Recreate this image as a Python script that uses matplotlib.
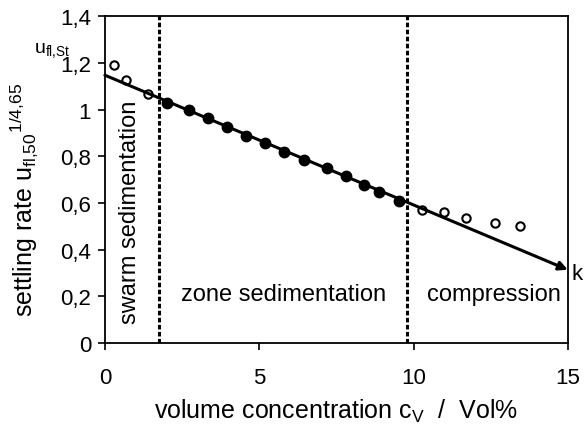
import numpy as np
import matplotlib.pyplot as plt

plt.rcParams['font.family'] = ['Liberation Sans', 'DejaVu Sans']
plt.rcParams['mathtext.fontset'] = 'custom'
plt.rcParams['mathtext.rm'] = 'Liberation Sans'
plt.rcParams['mathtext.it'] = 'Liberation Sans'
plt.rcParams['mathtext.default'] = 'regular'

# open circles: swarm and compression regions
open_x = [0.29, 0.68, 1.39, 10.26, 10.98, 11.69, 12.63, 13.45]
open_y = [1.19, 1.126, 1.066, 0.571, 0.562, 0.536, 0.514, 0.502]
# filled circles: zone sedimentation
fill_x = [2.0, 2.73, 3.35, 3.97, 4.56, 5.2, 5.81, 6.46, 7.21, 7.8, 8.39, 8.89, 9.53]
fill_y = [1.03, 0.997, 0.962, 0.926, 0.888, 0.856, 0.82, 0.783, 0.749, 0.716, 0.678, 0.645, 0.609]
# fitted line
fit_x = [0, 15]
fit_y = [1.147, 0.314]
bounds = [1.75, 9.8]
yticks = [0, 0.2, 0.4, 0.6, 0.8, 1.0, 1.2, 1.4]
ytick_labels = ['0', '0,2', '0,4', '0,6', '0,8', '1', '1,2', '1,4']
xticks = [0, 5, 10, 15]

fig = plt.figure(figsize=(5.86, 4.27), dpi=100)
ax = fig.add_axes([0.179, 0.194, 0.79, 0.766])

ax.annotate('', xy=(fit_x[1], fit_y[1]), xytext=(fit_x[0], fit_y[0]),
            arrowprops=dict(arrowstyle='-|>', lw=2.2, color='black',
                            mutation_scale=13, shrinkA=0, shrinkB=0))
for b in bounds:
    ax.axvline(b, color='black', lw=2.2, ls=(0, (1.5, 0.8)))

ax.plot(fill_x, fill_y, 'o', color='black', ms=7.5)
ax.plot(open_x, open_y, 'o', mfc='white', mec='black', ms=6, mew=1.5)

ax.set_xlim(0, 15)
ax.set_ylim(0, 1.4)
ax.set_xticks(xticks)
ax.set_yticks(yticks)
ax.set_yticklabels(ytick_labels)
ax.tick_params(direction='out', length=5, width=1.2, labelsize=16)
ax.tick_params(axis='x', pad=12)
ax.tick_params(axis='y', pad=5)
for s in ax.spines.values():
    s.set_linewidth(1.3)

ax.text(0.8, 0.565, 'swarm sedimentation', rotation=90, ha='center', va='center', fontsize=17)
ax.text(5.8, 0.21, 'zone sedimentation', ha='center', va='center', fontsize=17)
ax.text(12.6, 0.21, 'compression', ha='center', va='center', fontsize=17)

ax.set_xlabel('volume concentration c$_V$  /  Vol%', fontsize=18)
ax.xaxis.set_label_coords(0.5, -0.165)
ax.set_ylabel('settling rate u$_{fl{,}50}$$^{1/4{,}65}$', fontsize=18)
ax.yaxis.set_label_coords(-0.14, 0.44)

fig.text(0.058, 0.875, 'u$_{fl{,}St}$', fontsize=14)
fig.text(0.975, 0.345, 'k', fontsize=16)

fig.savefig('out.png', dpi=100)
